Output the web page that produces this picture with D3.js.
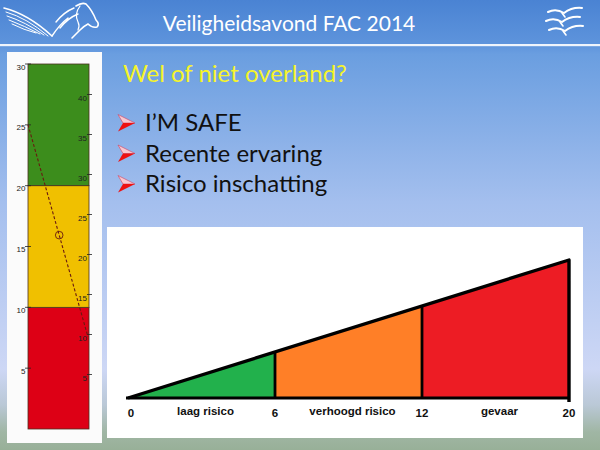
<!DOCTYPE html>
<html>
<head>
<meta charset="utf-8">
<script src="https://cdn.jsdelivr.net/npm/d3@7"></script>
<style>
html,body{margin:0;padding:0;width:600px;height:450px;overflow:hidden;}
svg{display:block;}
</style>
</head>
<body>
<script>
// ---------- data ----------
const slideTitle = "Veiligheidsavond FAC 2014";
const heading = "Wel of niet overland?";
const bullets = ["I\u2019M SAFE", "Recente ervaring", "Risico inschatting"];

// risk triangle
const riskBreaks = [0, 6, 12, 20];
const riskZones = ["laag risico", "verhoogd risico", "gevaar"];

// nomogram gauge (left picture)
const gaugeZoneBreaks = [0, 10, 20, 30];
const gaugeLeftTicks = [5, 10, 15, 20, 25, 30];
const gaugeRightTicks = [5, 10, 15, 20, 25, 30, 35, 40];
const gaugeLeftValue = 25;
const gaugeRightValue = 10;
const gaugeMarkerT = 0.52;

// ---------- drawing ----------
const W = 600, H = 450;
const svg = d3.select("body").append("svg").attr("width", W).attr("height", H);
const defs = svg.append("defs");

const bg = defs.append("linearGradient").attr("id", "bg").attr("x1", 0).attr("y1", 0).attr("x2", 0).attr("y2", 1);
[[0, "#4a83d3"], [0.1, "#5e94dc"], [0.12, "#6a9ee0"], [0.45, "#a4bfee"], [0.82, "#cdd7f5"], [0.9, "#bac8d6"], [0.96, "#a0b6a4"], [1, "#98b098"]]
  .forEach(([o, c]) => bg.append("stop").attr("offset", o).attr("stop-color", c));
svg.append("rect").attr("width", W).attr("height", H).attr("fill", "url(#bg)");

// header rule
svg.append("rect").attr("x", 0).attr("y", 44).attr("width", W).attr("height", 2.2).attr("fill", "#eef4fc");

// title
svg.append("text").attr("x", 289).attr("y", 31).attr("text-anchor", "middle")
  .attr("font-family", "Lato, 'Open Sans', sans-serif").attr("font-size", 21)
  .attr("fill", "#ffffff").text(slideTitle);

// pegasus logo (approximate)
const logo = svg.append("g").attr("fill", "none").attr("stroke", "#ffffff").attr("stroke-linecap", "round");
[[4, 8, 52, 36], [6, 12, 48, 36], [7, 16, 44, 35], [9, 20, 40, 34], [12, 24, 36, 33]].forEach(([a, b, c, d], i) => {
  logo.append("path").attr("d", `M${a},${b} Q${(a + c) / 2},${b + 6} ${c},${d}`).attr("stroke-width", i === 0 ? 1.6 : 1);
});
logo.append("path").attr("d", "M52,36 Q60,24 68,18 M56,22 Q64,12 74,8 M60,28 Q68,18 78,14").attr("stroke-width", 1.4);
logo.append("path").attr("d", "M76,6 Q82,2 86,4 Q92,10 96,20 Q100,24 97,27 Q92,28 88,24 Q84,26 80,30 Q76,34 72,38").attr("stroke-width", 1.6);
logo.append("path").attr("d", "M80,6 Q74,14 78,22 Q80,26 78,30").attr("stroke-width", 1.2);

// birds logo (approximate)
const birds = svg.append("g").attr("fill", "none").attr("stroke", "#ffffff").attr("stroke-width", 2).attr("stroke-linecap", "round");
[[548, 10], [546, 19], [549, 28]].forEach(([bx, by]) => {
  birds.append("path").attr("d", `M${bx},${by + 2} Q${bx + 8},${by - 2} ${bx + 16},${by + 3} Q${bx + 24},${by - 3} ${bx + 34},${by - 2}`);
  birds.append("path").attr("d", `M${bx + 14},${by + 3} L${bx + 17},${by + 7}`).attr("stroke-width", 1.6);
});

// heading + bullets
svg.append("text").attr("x", 123).attr("y", 82)
  .attr("font-family", "Lato, 'Open Sans', sans-serif").attr("font-size", 24)
  .attr("fill", "#f6f42a").text(heading);

const bulletY = d3.scalePoint().domain(bullets).range([131, 192]);
const bg2 = svg.append("g");
bullets.forEach(b => {
  const y = bulletY(b) - 8;
  const g = bg2.append("g").attr("transform", `translate(118,${y})`);
  g.append("path").attr("d", "M0,-8.5 L17,0 L5,0 Z").attr("fill", "#f8c8d0").attr("stroke", "#d04060").attr("stroke-width", 0.6);
  g.append("path").attr("d", "M0,8.5 L17,0 L5,0 Z").attr("fill", "#ee1111");
  bg2.append("text").attr("x", 145).attr("y", bulletY(b))
    .attr("font-family", "Lato, 'Open Sans', sans-serif").attr("font-size", 24)
    .attr("fill", "#111111").text(b);
});

// ---------- left gauge ----------
svg.append("rect").attr("x", 7).attr("y", 52).attr("width", 95).attr("height", 391).attr("fill", "#fbfbfb");
const gx0 = 28, gx1 = 89;
const yL = d3.scaleLinear().domain([0, 30]).range([429, 64]);
const yR = d3.scaleLinear().domain([0, 40]).range([417, 97]);
const gaugeColor = d3.scaleOrdinal().domain([0, 1, 2]).range(["#dd0015", "#f0c000", "#3c8d1c"]);
const gz = svg.append("g");
d3.range(gaugeZoneBreaks.length - 1).forEach(i => {
  gz.append("rect").attr("x", gx0).attr("width", gx1 - gx0)
    .attr("y", yL(gaugeZoneBreaks[i + 1])).attr("height", yL(gaugeZoneBreaks[i]) - yL(gaugeZoneBreaks[i + 1]))
    .attr("fill", gaugeColor(i)).attr("stroke", "#4a3020").attr("stroke-width", 0.8);
});
gaugeLeftTicks.forEach(v => {
  gz.append("line").attr("x1", gx0 - 3).attr("x2", gx0 + 3).attr("y1", yL(v)).attr("y2", yL(v)).attr("stroke", "#222").attr("stroke-width", 0.8);
  gz.append("text").attr("x", gx0 - 2.5).attr("y", yL(v) + 5.5).attr("text-anchor", "end")
    .attr("font-family", "Arial, 'Liberation Sans', sans-serif").attr("font-size", 8).attr("fill", "#222").text(v);
});
gaugeRightTicks.forEach(v => {
  gz.append("line").attr("x1", gx1 - 2).attr("x2", gx1 + 3).attr("y1", yR(v) - 2.5).attr("y2", yR(v) - 2.5).attr("stroke", "#222").attr("stroke-width", 0.8);
  gz.append("text").attr("x", gx1 - 2).attr("y", yR(v) + 3.5).attr("text-anchor", "end")
    .attr("font-family", "Arial, 'Liberation Sans', sans-serif").attr("font-size", 8).attr("fill", "#222").text(v);
});
const p0 = [gx0, yL(gaugeLeftValue)], p1 = [gx1 - 1, yR(gaugeRightValue)];
gz.append("line").attr("x1", p0[0]).attr("y1", p0[1]).attr("x2", p1[0]).attr("y2", p1[1])
  .attr("stroke", "#6a1a10").attr("stroke-width", 1.1).attr("stroke-dasharray", "3,2");
gz.append("circle").attr("cx", p0[0] + (p1[0] - p0[0]) * gaugeMarkerT).attr("cy", p0[1] + (p1[1] - p0[1]) * gaugeMarkerT)
  .attr("r", 3.8).attr("fill", "none").attr("stroke", "#6a1a10").attr("stroke-width", 0.9);

// ---------- risk triangle ----------
svg.append("rect").attr("x", 107).attr("y", 227).attr("width", 476).attr("height", 211).attr("fill", "#ffffff");
const tx0 = 128, tx1 = 569, base = 398, maxH = 138;
const x = d3.scaleLinear().domain(riskBreaks)
  .range(riskBreaks.map((d, i) => tx0 + i * (tx1 - tx0) / (riskBreaks.length - 1)));
const topY = v => base - (x(v) - tx0) / (tx1 - tx0) * maxH;
const zoneColor = d3.scaleOrdinal().domain(riskZones).range(["#22b14c", "#ff7f27", "#ed1c24"]);
const tg = svg.append("g");
riskZones.forEach((z, i) => {
  const a = riskBreaks[i], b = riskBreaks[i + 1];
  tg.append("path")
    .attr("d", d3.line()([[x(a), base], [x(a), topY(a)], [x(b), topY(b)], [x(b), base]]) + "Z")
    .attr("fill", zoneColor(z));
});
const last = riskBreaks[riskBreaks.length - 1];
tg.append("path")
  .attr("d", d3.line()([[x(0), base], [x(last), topY(last)], [x(last), base + 4]]))
  .attr("fill", "none").attr("stroke", "#000").attr("stroke-width", 3.4).attr("stroke-linejoin", "round");
tg.append("line").attr("x1", x(0) - 2).attr("x2", x(last)).attr("y1", base).attr("y2", base)
  .attr("stroke", "#000").attr("stroke-width", 3.2);
riskBreaks.slice(1, -1).forEach(v => {
  tg.append("line").attr("x1", x(v)).attr("x2", x(v)).attr("y1", topY(v)).attr("y2", base)
    .attr("stroke", "#000").attr("stroke-width", 2.8);
});
riskBreaks.forEach((v, i) => {
  tg.append("text").attr("x", x(v) + (i === 0 ? 3 : 0)).attr("y", base + 19).attr("text-anchor", "middle")
    .attr("font-family", "Arial, 'Liberation Sans', sans-serif").attr("font-weight", "bold")
    .attr("font-size", 11.5).attr("fill", "#111").text(v);
});
riskZones.forEach((z, i) => {
  tg.append("text").attr("x", (x(riskBreaks[i]) + x(riskBreaks[i + 1])) / 2 + 4).attr("y", base + 17).attr("text-anchor", "middle")
    .attr("font-family", "Arial, 'Liberation Sans', sans-serif").attr("font-weight", "bold")
    .attr("font-size", 11.5).attr("fill", "#111").text(z);
});
</script>
</body>
</html>
